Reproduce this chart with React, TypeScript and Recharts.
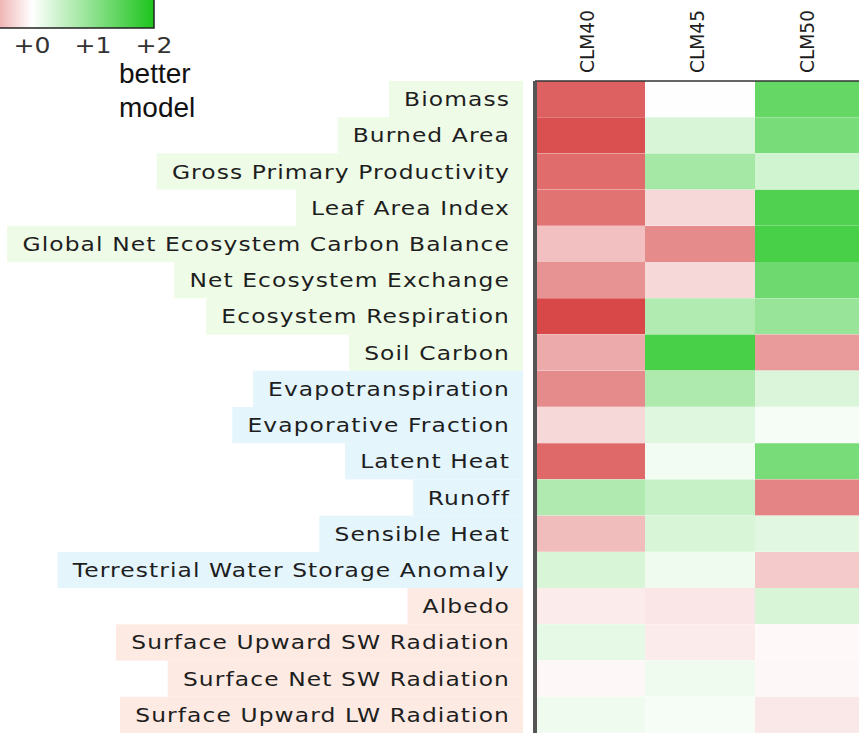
import React from 'react';
import { BarChart, Bar, XAxis, YAxis, Cell } from 'recharts';

const rowNames = [
  'Biomass',
  'Burned Area',
  'Gross Primary Productivity',
  'Leaf Area Index',
  'Global Net Ecosystem Carbon Balance',
  'Net Ecosystem Exchange',
  'Ecosystem Respiration',
  'Soil Carbon',
  'Evapotranspiration',
  'Evaporative Fraction',
  'Latent Heat',
  'Runoff',
  'Sensible Heat',
  'Terrestrial Water Storage Anomaly',
  'Albedo',
  'Surface Upward SW Radiation',
  'Surface Net SW Radiation',
  'Surface Upward LW Radiation',
];

const rowGroups = [
  'carbon', 'carbon', 'carbon', 'carbon', 'carbon', 'carbon', 'carbon', 'carbon',
  'water', 'water', 'water', 'water', 'water', 'water',
  'energy', 'energy', 'energy', 'energy',
];

const models = ['CLM40', 'CLM45', 'CLM50'];

const clm40 = [-1.13, -1.25, -1.05, -1.0, -0.45, -0.77, -1.31, -0.61, -0.83, -0.28, -1.08, 0.7, -0.48, 0.34, -0.14, 0.22, -0.06, 0.13];
const clm45 = [0.02, 0.34, 0.79, -0.28, -0.83, -0.28, 0.68, 1.61, 0.71, 0.28, 0.11, 0.5, 0.34, 0.13, -0.18, -0.14, 0.13, 0.08];
const clm50 = [1.37, 1.19, 0.41, 1.54, 1.61, 1.28, 0.91, -0.72, 0.33, 0.08, 1.19, -0.88, 0.26, -0.38, 0.34, -0.05, -0.06, -0.17];

const legendTickValues = [0, 1, 2];
const legendTickLabels = ['+0', '+1', '+2'];
const legendCaption = ['better', 'model'];

const scores = [clm40, clm45, clm50];

const groupColors: Record<string, string> = {
  carbon: '#eefbe7',
  water: '#e4f5fc',
  energy: '#fceae3',
};

const GREEN_END = [28, 196, 28];
const RED_END = [210, 45, 45];
const GREEN_FULL = 2;
const RED_FULL = 1.5;

function scoreColor(v: number): string {
  const t = Math.min(1, v >= 0 ? v / GREEN_FULL : -v / RED_FULL);
  const end = v >= 0 ? GREEN_END : RED_END;
  const c = end.map((e) => Math.round(255 + (e - 255) * t));
  return `rgb(${c[0]},${c[1]},${c[2]})`;
}

const data = rowNames.map((name, i) => ({
  name,
  group: rowGroups[i],
  CLM40: 1,
  CLM45: 1,
  CLM50: 1,
}));

const ROW_FONT = '"DejaVu Sans", Verdana, sans-serif';
const ROW_FONT_SIZE = 19;
const ROW_SX = 1.23;
const ROW_LS = 0.9;

let measureCtx: CanvasRenderingContext2D | null = null;
function measure(text: string): number {
  if (typeof document === 'undefined') return text.length * 12;
  if (!measureCtx) {
    const c = document.createElement('canvas');
    measureCtx = c.getContext('2d');
  }
  if (!measureCtx) return text.length * 12;
  measureCtx.font = `${ROW_FONT_SIZE}px "DejaVu Sans"`;
  return measureCtx.measureText(text).width + text.length * ROW_LS;
}

const ROW_HEIGHT = 652 / 18;

function RowTick(props: any) {
  const { x, y, payload, index } = props;
  const name = payload.value as string;
  const i = rowNames.indexOf(name);
  const group = rowGroups[i >= 0 ? i : index];
  const w = measure(name) * ROW_SX;
  const boxLeft = x - w - 15;
  const boxRight = x + 13;
  return (
    <g>
      <rect
        x={boxLeft}
        y={y - ROW_HEIGHT / 2}
        width={boxRight - boxLeft}
        height={ROW_HEIGHT}
        fill={groupColors[group]}
      />
      <text
        transform={`translate(${x},${y + 7}) scale(${ROW_SX},1)`}
        textAnchor="end"
        fontFamily={ROW_FONT}
        fontSize={ROW_FONT_SIZE}
        letterSpacing={ROW_LS}
        fill="#1e1e1e"
      >
        {name}
      </text>
    </g>
  );
}

function ColTick(props: any) {
  const { x, payload } = props;
  const idx = Math.floor(payload.value);
  return (
    <text
      transform={`translate(${x + 3.5},73) rotate(-90)`}
      x={0}
      y={0}
      textAnchor="start"
      fontFamily={ROW_FONT}
      fontSize={20}
      textLength={63}
      lengthAdjust="spacingAndGlyphs"
      fill="#1e1e1e"
    >
      {models[idx]}
    </text>
  );
}

function Legend() {
  const x0 = 32;
  const unit = 61;
  const xmin = x0 - 2 * unit;
  const xmax = x0 + 2 * unit;
  const stops: number[] = [];
  for (let k = 0; k <= 16; k++) stops.push(-2 + k * 0.25);
  return (
    <svg width={240} height={130} style={{ position: 'absolute', left: 0, top: 0 }}>
      <defs>
        <linearGradient id="lg" gradientUnits="userSpaceOnUse" x1={xmin} y1={0} x2={xmax} y2={0}>
          {stops.map((v, k) => (
            <stop key={k} offset={(v + 2) / 4} stopColor={scoreColor(v)} />
          ))}
        </linearGradient>
      </defs>
      <rect x={xmin} y={-10} width={xmax - xmin} height={38} fill="url(#lg)" stroke="#222" strokeWidth={1.5} />
      {legendTickValues.map((v, k) => (
        <text
          key={k}
          transform={`translate(${x0 + v * unit},53) scale(1.14,1)`}
          textAnchor="middle"
          fontFamily={ROW_FONT}
          fontSize={22}
          fill="#333"
        >
          {legendTickLabels[k]}
        </text>
      ))}
      {legendCaption.map((t, k) => (
        <text
          key={t}
          x={119}
          y={83 + k * 34}
          fontFamily='"Liberation Sans", Arial, sans-serif'
          fontSize={28}
          fill="#111"
        >
          {t}
        </text>
      ))}
    </svg>
  );
}

export default function App() {
  return (
    <div
      style={{
        position: 'absolute',
        left: 0,
        top: 0,
        width: 859,
        height: 733,
        overflow: 'hidden',
        background: '#fff',
      }}
    >
      <div style={{ position: 'absolute', left: 0, top: 0 }}>
        <BarChart
          width={870}
          height={760}
          data={data}
          layout="vertical"
          margin={{ top: 0, right: 5, bottom: 27, left: 0 }}
          barCategoryGap={0}
          barGap={0}
        >
          <XAxis
            type="number"
            domain={[0, 3]}
            orientation="top"
            ticks={[0.5, 1.5, 2.5]}
            interval={0}
            height={81}
            axisLine={{ stroke: '#333', strokeWidth: 1.5 }}
            tickLine={false}
            tick={<ColTick />}
            allowDataOverflow
          />
          <YAxis
            type="category"
            dataKey="name"
            width={535}
            interval={0}
            tickSize={0}
            tickMargin={25}
            tickLine={false}
            axisLine={{ stroke: '#555', strokeWidth: 4 }}
            tick={<RowTick />}
          />
          {models.map((m, j) => (
            <Bar key={m} dataKey={m} stackId="a" isAnimationActive={false}>
              {data.map((d, i) => (
                <Cell key={i} fill={scoreColor(scores[j][i])} />
              ))}
            </Bar>
          ))}
        </BarChart>
      </div>
      <Legend />
    </div>
  );
}
